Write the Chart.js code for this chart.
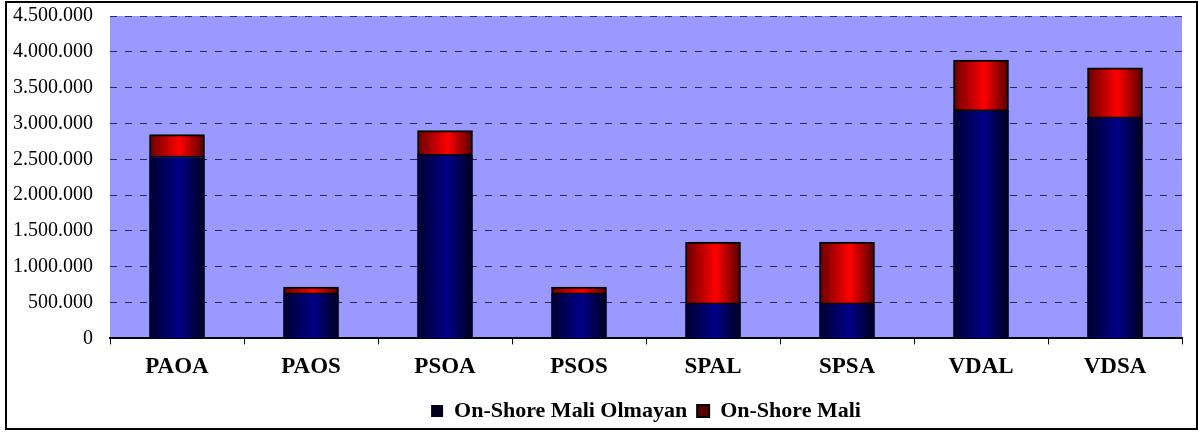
<!DOCTYPE html>
<html>
<head>
<meta charset="utf-8">
<script src="https://cdn.jsdelivr.net/npm/chart.js@4/dist/chart.umd.min.js"></script>
<style>
	body{margin:0;background:#fff;}
	#wrap{position:relative;width:1198px;height:432px;}
	#frame{position:absolute;left:5px;top:1px;width:1189px;height:425px;border:2px solid #000;pointer-events:none;}
</style>
</head>
<body>
<div id="wrap">
	<canvas id="stackChart" width="1198" height="432"></canvas>
	<div id="frame"></div>
</div>
<script>
var categories = ['PAOA','PAOS','PSOA','PSOS','SPAL','SPSA','VDAL','VDSA'];
var maliOlmayan = [2525000, 615000, 2550000, 615000, 475000, 475000, 3170000, 3070000];
var mali = [320000, 100000, 350000, 100000, 870000, 870000, 715000, 705000];
var seriesNames = ['On-Shore Mali Olmayan','On-Shore Mali'];
var yMax = 4500000;
var yStep = 500000;

var BAR_W = 55;

// horizontal shading across each bar, like the old excel cylinders
function barShade(stops, flat){
	return function(c){
		if(c.type !== 'data') return flat;
		var xs = c.chart.scales.x;
		if(!xs) return flat;
		var px = xs.getPixelForValue(c.dataIndex);
		if(!isFinite(px)) return flat;
		var g = c.chart.ctx.createLinearGradient(px - BAR_W/2, 0, px + BAR_W/2, 0);
		for(var i=0;i<stops.length;i++) g.addColorStop(stops[i][0], stops[i][1]);
		return g;
	};
}

function fmt(v){
	return String(v).replace(/\B(?=(\d{3})+(?!\d))/g, '.');
}

var plotBg = {
	id:'plotBg',
	beforeDraw:function(chart){
		var a = chart.chartArea, ctx = chart.ctx;
		ctx.save();
		ctx.fillStyle = '#9999ff';
		ctx.fillRect(a.left, a.top, a.right - a.left, a.bottom - a.top);
		ctx.restore();
	}
};

var ctx = document.getElementById('stackChart').getContext('2d');
var stackChart = new Chart(ctx, {
	type:'bar',
	data:{
		labels:categories,
		datasets:[{
			label:seriesNames[0],
			data:maliOlmayan,
			backgroundColor:barShade([[0,'#000030'],[0.55,'#000088'],[1,'#00001e']], '#000080'),
			borderWidth:0,
			barThickness:BAR_W
		},{
			label:seriesNames[1],
			data:mali,
			backgroundColor:barShade([[0,'#6a0000'],[0.55,'#ff0000'],[1,'#560000']], '#ff0000'),
			borderColor:'#000',
			borderWidth:2,
			borderSkipped:false,
			barThickness:BAR_W
		}]
	},
	options:{
		responsive:false,
		animation:false,
		layout:{padding:{left:0,right:16,top:16,bottom:0}},
		scales:{
			x:{
				stacked:true,
				grid:{display:true,drawOnChartArea:false,drawTicks:true,tickLength:6,color:'#000',offset:true},
				border:{display:true,color:'#000',width:2},
				ticks:{color:'#000',padding:9,font:{family:'"Liberation Serif"',size:23,weight:'bold'}}
			},
			y:{
				stacked:true,
				min:0,max:yMax,
				afterFit:function(s){ s.width = 110; s.paddingTop = 0; },
				grid:{color:'#2a2a55',lineWidth:1,drawTicks:false},
				border:{display:false,dash:[7,8]},
				ticks:{stepSize:yStep,color:'#000',padding:17,callback:function(v){return fmt(v);},font:{family:'"Liberation Serif"',size:20}}
			}
		},
		plugins:{
			legend:{
				position:'bottom',
				fullSize:false,
				labels:{color:'#000',boxWidth:12,boxHeight:12,padding:10,font:{family:'"Liberation Serif"',size:22,weight:'bold'}}
			},
			tooltip:{enabled:false}
		}
	},
	plugins:[plotBg]
});
</script>
</body>
</html>
